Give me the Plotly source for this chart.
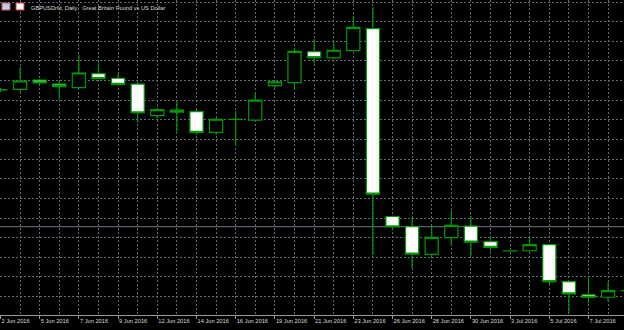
import plotly.graph_objects as go

# ---- data (GBPUSD daily) ----
dates = ["2 Jun 2016", "3 Jun 2016", "5 Jun 2016", "6 Jun 2016", "7 Jun 2016", "8 Jun 2016",
         "9 Jun 2016", "10 Jun 2016", "12 Jun 2016", "13 Jun 2016", "14 Jun 2016", "15 Jun 2016",
         "16 Jun 2016", "17 Jun 2016", "19 Jun 2016", "20 Jun 2016", "21 Jun 2016", "22 Jun 2016",
         "23 Jun 2016", "24 Jun 2016", "26 Jun 2016", "27 Jun 2016", "28 Jun 2016", "29 Jun 2016",
         "30 Jun 2016", "1 Jul 2016", "3 Jul 2016", "4 Jul 2016", "5 Jul 2016", "6 Jul 2016",
         "7 Jul 2016", "8 Jul 2016", "10 Jul 2016"]
open_ = [1.4420, 1.4424, 1.4491, 1.4462, 1.4436, 1.4537, 1.4504, 1.4462, 1.4233, 1.4274, 1.4262,
         1.4112, 1.4206, 1.4201, 1.4450, 1.4472, 1.4696, 1.4651, 1.4704, 1.4863, 1.3502, 1.3428,
         1.3228, 1.3349, 1.3433, 1.3320, 1.3253, 1.3254, 1.3298, 1.3030, 1.2935, 1.2917, 1.2964]
high = [1.4433, 1.4588, 1.4498, 1.4484, 1.4672, 1.4617, 1.4535, 1.4477, 1.4281, 1.4334, 1.4279,
        1.4218, 1.4267, 1.4399, 1.4480, 1.4723, 1.4788, 1.4769, 1.4950, 1.5018, 1.3509, 1.3495,
        1.3433, 1.3544, 1.3506, 1.3356, 1.3254, 1.3349, 1.3300, 1.3031, 1.3062, 1.3030, 1.2966]
low = [1.4404, 1.4399, 1.4462, 1.4351, 1.4433, 1.4498, 1.4455, 1.4182, 1.4214, 1.4117, 1.4093,
       1.4093, 1.4013, 1.4198, 1.4436, 1.4419, 1.4612, 1.4641, 1.4701, 1.3223, 1.3409, 1.3129,
       1.3199, 1.3296, 1.3216, 1.3250, 1.3251, 1.3252, 1.3011, 1.2801, 1.2873, 1.2885, 1.2963]
close = [1.4419, 1.4484, 1.4470, 1.4443, 1.4542, 1.4501, 1.4460, 1.4254, 1.4276, 1.4259, 1.4112,
         1.4207, 1.4207, 1.4346, 1.4477, 1.4699, 1.4653, 1.4707, 1.4873, 1.3665, 1.3428, 1.3230,
         1.3351, 1.3438, 1.3317, 1.3279, 1.3252, 1.3298, 1.3030, 1.2941, 1.2917, 1.2965, 1.2965]
hline_price = 1.3428
title_text = "GBPUSDrfd, Daily:  Great Britain Pound vs US Dollar"

# ---- style ----
W, H = 624, 330
BG = "#000000"
GREEN = "#009a00"
GRID = "#5f6b78"
AXIS = "#9a9a9a"
TXT = "#dcdcdc"
FONT = "Liberation Sans"
FS = 5.7

idx = list(range(len(dates)))
tick_idx = idx[0:31:2]
tick_txt = [dates[i] for i in tick_idx]

fig = go.Figure(go.Candlestick(
    x=idx, open=open_, high=high, low=low, close=close,
    increasing=dict(line=dict(color=GREEN, width=1.2), fillcolor="#000000"),
    decreasing=dict(line=dict(color=GREEN, width=1.2), fillcolor="#ffffff"),
    whiskerwidth=0, hoverinfo="skip",
))

fig.add_shape(type="line", xref="paper", x0=0, x1=1, yref="y", y0=hline_price, y1=hline_price,
              line=dict(color="#6e7882", width=1), layer="below")

# header icons
fig.add_shape(type="rect", xref="paper", yref="paper", x0=2/W, x1=10/W, y0=1-10/315, y1=1-3/315,
              fillcolor="#b8d0f0", line=dict(color="#e05060", width=1))
fig.add_shape(type="rect", xref="paper", yref="paper", x0=16/W, x1=24/W, y0=1-10/315, y1=1-3/315,
              fillcolor="#ffffff", line=dict(color="#e03040", width=1))
fig.add_annotation(text=title_text, xref="paper", yref="paper", x=29/W, y=1-7.5/315,
                   xanchor="left", yanchor="middle", showarrow=False,
                   font=dict(family=FONT, size=FS, color=TXT))

fig.update_layout(
    width=W, height=H, margin=dict(l=0, r=0, t=0, b=15, autoexpand=False),
    paper_bgcolor=BG, plot_bgcolor=BG, showlegend=False,
    boxgap=0.04,
    font=dict(family=FONT, size=FS, color=TXT),
    xaxis=dict(
        range=[-0.0255, 31.811], rangeslider=dict(visible=False), automargin=False,
        tickmode="array", tickvals=tick_idx, ticktext=tick_txt, tickangle=0,
        ticklabelposition="outside right", ticks="outside", ticklen=3, tickcolor=AXIS,
        showline=True, linecolor=AXIS, linewidth=1, zeroline=False,
        showgrid=True, gridcolor=GRID, griddash="2px,2px", gridwidth=1,
        minor=dict(tickmode="linear", tick0=0, dtick=1, showgrid=True, gridcolor=GRID,
                   griddash="2px,2px", gridwidth=1, ticks=""),
        tickfont=dict(family=FONT, size=FS, color=TXT),
    ),
    yaxis=dict(
        range=[1.27884, 1.5071], showticklabels=False, ticks="", automargin=False,
        tickmode="linear", tick0=1.50565, dtick=0.014232,
        showgrid=True, gridcolor=GRID, griddash="2px,2px", gridwidth=1,
        showline=True, linecolor=AXIS, zeroline=False,
    ),
)

fig.write_html("out.html")
